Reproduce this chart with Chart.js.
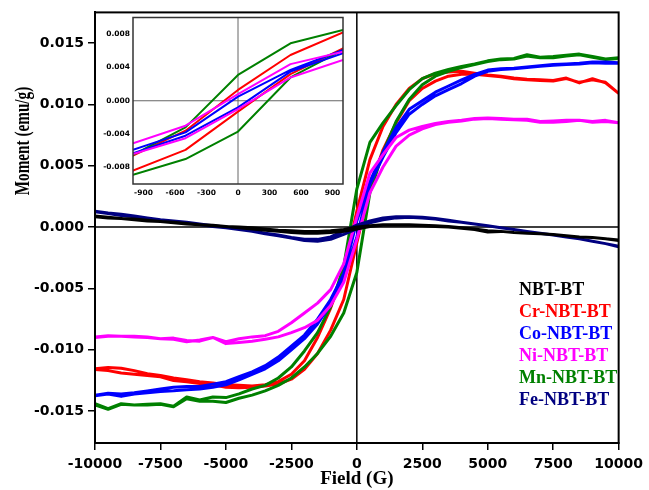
<!DOCTYPE html>
<html>
<head>
<meta charset="utf-8">
<script src="https://cdn.jsdelivr.net/npm/chart.js@4.4.1/dist/chart.umd.min.js"></script>
<style>
    html, body { margin: 0; padding: 0; background: #fff; }
    #wrap { position: relative; width: 649px; height: 490px; overflow: hidden; }
    #main { position: absolute; left: 0; top: 0; }
    #inset { position: absolute; left: 98px; top: 10px; }
    #ytitle {
        position: absolute; left: 22px; top: 141px; width: 200px; height: 22px; margin-left: -100px; margin-top: -11px;
        transform: rotate(-90deg) scaleX(0.76); text-align: center; line-height: 22px;
        font: bold 20px "Liberation Serif", "Times New Roman", serif; color: #000; white-space: nowrap;
    }
    #legend {
        position: absolute; left: 519px; top: 278px;
        font: bold 18px "Liberation Serif", "Times New Roman", serif; line-height: 22px;
    }
</style>
</head>
<body>
<div id="wrap">
    <canvas id="main" width="649" height="490"></canvas>
    <canvas id="inset" width="250" height="192"></canvas>
    <div id="ytitle">Moment (emu/g)</div>
    <div id="legend"></div>
</div>
<script>
// ========== Datos (emu/g) ==========

// rama descendente: de +10000 G a -10000 G (paso 500 G)
const fieldDesc = [10000, 9500, 9000, 8500, 8000, 7500, 7000, 6500, 6000, 5500, 5000, 4500, 4000, 3500, 3000, 2500, 2000, 1500, 1000, 500,
    0, -500, -1000, -1500, -2000, -2500, -3000, -3500, -4000, -4500, -5000, -5500, -6000, -6500, -7000, -7500, -8000, -8500, -9000, -9500, -10000];
// rama ascendente: mismo campo recorrido al reves
const fieldAsc = fieldDesc.slice().reverse();

const fieldTicks  = [-10000, -7500, -5000, -2500, 0, 2500, 5000, 7500, 10000];
const momentTicks = [-0.015, -0.010, -0.005, 0, 0.005, 0.010, 0.015];
const insetFieldTicks  = [-900, -600, -300, 0, 300, 600, 900];
const insetMomentTicks = [-0.008, -0.004, 0, 0.004, 0.008];

const sampleNames = ['NBT-BT', 'Cr-NBT-BT', 'Co-NBT-BT', 'Ni-NBT-BT', 'Mn-NBT-BT', 'Fe-NBT-BT'];

const nbtDesc = [-0.00105, -0.00095, -0.00085, -0.00080, -0.00070, -0.00060, -0.00055, -0.00050, -0.00045, -0.00035, -0.00030, -0.00015, -0.00005, 0.00005, 0.00010, 0.00015, 0.00020, 0.00020, 0.00020, 0.00010,
    0.00000, -0.00020, -0.00030, -0.00035, -0.00035, -0.00030, -0.00025, -0.00015, -0.00005, 0.00000, 0.00005, 0.00015, 0.00020, 0.00030, 0.00040, 0.00045, 0.00055, 0.00065, 0.00070, 0.00080, 0.00090];
const nbtAsc  = [0.00085, 0.00075, 0.00070, 0.00060, 0.00050, 0.00045, 0.00035, 0.00025, 0.00020, 0.00010, 0.00005, -0.00005, -0.00015, -0.00025, -0.00035, -0.00045, -0.00050, -0.00050, -0.00045, -0.00035,
    -0.00015, 0.00005, 0.00015, 0.00015, 0.00015, 0.00010, 0.00005, 0.00000, -0.00010, -0.00020, -0.00040, -0.00035, -0.00045, -0.00050, -0.00055, -0.00060, -0.00070, -0.00080, -0.00085, -0.00095, -0.00110];

const crDesc = [0.01090, 0.01175, 0.01210, 0.01175, 0.01215, 0.01195, 0.01200, 0.01205, 0.01215, 0.01230, 0.01240, 0.01255, 0.01270, 0.01265, 0.01250, 0.01210, 0.01130, 0.01000, 0.00820, 0.00550,
    0.00130, -0.00360, -0.00660, -0.00900, -0.01090, -0.01200, -0.01260, -0.01285, -0.01295, -0.01290, -0.01285, -0.01270, -0.01260, -0.01245, -0.01230, -0.01210, -0.01195, -0.01170, -0.01150, -0.01145, -0.01155];
const crAsc  = [-0.01160, -0.01170, -0.01190, -0.01200, -0.01210, -0.01220, -0.01250, -0.01260, -0.01275, -0.01285, -0.01305, -0.01310, -0.01305, -0.01295, -0.01280, -0.01240, -0.01160, -0.01030, -0.00840, -0.00590,
    -0.00130, 0.00320, 0.00630, 0.00850, 0.01030, 0.01130, 0.01190, 0.01230, 0.01245, 0.01245, 0.01235, 0.01225, 0.01210, 0.01200, 0.01195, 0.01190, 0.01210, 0.01180, 0.01200, 0.01180, 0.01090];

const coDesc = [0.01340, 0.01345, 0.01345, 0.01335, 0.01330, 0.01325, 0.01315, 0.01305, 0.01295, 0.01290, 0.01280, 0.01245, 0.01200, 0.01150, 0.01100, 0.01030, 0.00960, 0.00810, 0.00610, 0.00370,
    0.00050, -0.00380, -0.00590, -0.00750, -0.00880, -0.00970, -0.01060, -0.01130, -0.01180, -0.01220, -0.01260, -0.01280, -0.01300, -0.01300, -0.01305, -0.01320, -0.01335, -0.01350, -0.01360, -0.01355, -0.01370];
const coAsc  = [-0.01375, -0.01360, -0.01380, -0.01360, -0.01350, -0.01340, -0.01335, -0.01325, -0.01320, -0.01305, -0.01285, -0.01245, -0.01200, -0.01155, -0.01090, -0.01000, -0.00910, -0.00790, -0.00630, -0.00420,
    -0.00080, 0.00350, 0.00570, 0.00770, 0.00920, 0.01000, 0.01070, 0.01120, 0.01170, 0.01230, 0.01270, 0.01285, 0.01290, 0.01300, 0.01310, 0.01320, 0.01325, 0.01330, 0.01340, 0.01335, 0.01335];

const niDesc = [0.00850, 0.00870, 0.00860, 0.00870, 0.00870, 0.00865, 0.00860, 0.00880, 0.00880, 0.00885, 0.00890, 0.00885, 0.00870, 0.00860, 0.00845, 0.00820, 0.00790, 0.00730, 0.00590, 0.00440,
    0.00080, -0.00300, -0.00510, -0.00620, -0.00700, -0.00780, -0.00850, -0.00885, -0.00895, -0.00910, -0.00935, -0.00900, -0.00920, -0.00935, -0.00915, -0.00910, -0.00895, -0.00890, -0.00890, -0.00885, -0.00895];
const niAsc  = [-0.00900, -0.00890, -0.00890, -0.00895, -0.00900, -0.00910, -0.00905, -0.00925, -0.00930, -0.00900, -0.00950, -0.00940, -0.00930, -0.00915, -0.00895, -0.00860, -0.00820, -0.00760, -0.00640, -0.00450,
    -0.00100, 0.00280, 0.00490, 0.00660, 0.00750, 0.00800, 0.00835, 0.00855, 0.00865, 0.00880, 0.00885, 0.00880, 0.00875, 0.00870, 0.00855, 0.00855, 0.00860, 0.00870, 0.00855, 0.00860, 0.00850];

const mnDesc = [0.01380, 0.01370, 0.01390, 0.01410, 0.01400, 0.01390, 0.01385, 0.01405, 0.01375, 0.01370, 0.01355, 0.01330, 0.01310, 0.01285, 0.01255, 0.01210, 0.01120, 0.00990, 0.00850, 0.00690,
    0.00310, -0.00320, -0.00650, -0.00860, -0.01010, -0.01140, -0.01230, -0.01290, -0.01320, -0.01360, -0.01390, -0.01385, -0.01410, -0.01385, -0.01460, -0.01440, -0.01445, -0.01450, -0.01440, -0.01480, -0.01440];
const mnAsc  = [-0.01450, -0.01485, -0.01445, -0.01450, -0.01450, -0.01445, -0.01465, -0.01400, -0.01420, -0.01420, -0.01430, -0.01395, -0.01370, -0.01335, -0.01290, -0.01230, -0.01140, -0.01030, -0.00890, -0.00700,
    -0.00370, 0.00280, 0.00610, 0.00860, 0.01040, 0.01160, 0.01230, 0.01270, 0.01300, 0.01325, 0.01350, 0.01365, 0.01370, 0.01395, 0.01380, 0.01380, 0.01395, 0.01405, 0.01385, 0.01365, 0.01375];

const feDesc = [-0.00155, -0.00135, -0.00115, -0.00095, -0.00080, -0.00065, -0.00050, -0.00035, -0.00020, -0.00005, 0.00010, 0.00025, 0.00040, 0.00055, 0.00070, 0.00080, 0.00085, 0.00085, 0.00075, 0.00050,
    0.00015, -0.00030, -0.00080, -0.00100, -0.00100, -0.00085, -0.00065, -0.00050, -0.00030, -0.00015, 0.00000, 0.00010, 0.00025, 0.00040, 0.00050, 0.00060, 0.00075, 0.00090, 0.00105, 0.00115, 0.00130];
const feAsc  = [0.00125, 0.00110, 0.00095, 0.00085, 0.00070, 0.00055, 0.00045, 0.00035, 0.00020, 0.00005, -0.00005, -0.00020, -0.00035, -0.00055, -0.00070, -0.00090, -0.00110, -0.00115, -0.00100, -0.00060,
    -0.00015, 0.00035, 0.00060, 0.00075, 0.00080, 0.00075, 0.00065, 0.00050, 0.00040, 0.00025, 0.00010, -0.00005, -0.00020, -0.00035, -0.00050, -0.00065, -0.00080, -0.00095, -0.00115, -0.00135, -0.00160];

// ========== Estilos ==========

const colores = {
    'NBT-BT': '#000000', 'Cr-NBT-BT': '#ff0000', 'Co-NBT-BT': '#0000ff',
    'Ni-NBT-BT': '#ff00ff', 'Mn-NBT-BT': '#008000', 'Fe-NBT-BT': '#000080'
};
const fuenteTicks = { family: 'DejaVu Sans', weight: 'bold', size: 14 };

// lazo completo: rama descendente + ascendente
function lazo(desc, asc) {
    return fieldDesc.map((h, i) => ({ x: h, y: desc[i] }))
        .concat(fieldAsc.map((h, i) => ({ x: h, y: asc[i] })));
}

const lazos = {
    'NBT-BT': lazo(nbtDesc, nbtAsc),
    'Cr-NBT-BT': lazo(crDesc, crAsc),
    'Co-NBT-BT': lazo(coDesc, coAsc),
    'Ni-NBT-BT': lazo(niDesc, niAsc),
    'Mn-NBT-BT': lazo(mnDesc, mnAsc),
    'Fe-NBT-BT': lazo(feDesc, feAsc)
};

function dataset(nombre, ancho) {
    return {
        label: nombre, data: lazos[nombre],
        borderColor: colores[nombre], backgroundColor: colores[nombre],
        borderWidth: ancho, pointRadius: 0, showLine: true, tension: 0, clip: 0,
        borderJoinStyle: 'round'
    };
}

// lineas en cero y marco
const ejesCero = {
    id: 'ejesCero',
    beforeDatasetsDraw(chart, args, opts) {
        const { ctx, chartArea: a, scales: { x, y } } = chart;
        const x0 = x.getPixelForValue(0);
        const y0 = y.getPixelForValue(0);
        ctx.save();
        ctx.strokeStyle = opts.color;
        ctx.lineWidth = opts.width;
        ctx.beginPath();
        ctx.moveTo(a.left, y0); ctx.lineTo(a.right, y0);
        ctx.moveTo(x0, a.top); ctx.lineTo(x0, a.bottom);
        ctx.stroke();
        ctx.restore();
    },
    afterDatasetsDraw(chart, args, opts) {
        const { ctx, chartArea: a } = chart;
        ctx.save();
        ctx.strokeStyle = opts.frameColor;
        ctx.lineWidth = opts.frameWidth;
        ctx.strokeRect(a.left, a.top, a.right - a.left, a.bottom - a.top);
        ctx.restore();
    }
};

// ========== Grafica principal ==========

const orden = ['NBT-BT', 'Fe-NBT-BT', 'Ni-NBT-BT', 'Co-NBT-BT', 'Mn-NBT-BT', 'Cr-NBT-BT'];

new Chart(document.getElementById('main'), {
    type: 'scatter',
    data: { datasets: orden.map(n => dataset(n, 3)) },
    plugins: [ejesCero],
    options: {
        responsive: false, animation: false, devicePixelRatio: 1,
        layout: { padding: { top: 12, right: 24, left: 0, bottom: 0 } },
        plugins: {
            legend: { display: false }, tooltip: { enabled: false },
            ejesCero: { color: '#000', width: 1.5, frameColor: '#000', frameWidth: 2 }
        },
        scales: {
            x: {
                type: 'linear', min: -10000, max: 10000,
                afterFit: s => { s.height = 47; },
                afterBuildTicks: s => { s.ticks = fieldTicks.map(v => ({ value: v })); },
                ticks: { font: fuenteTicks, color: '#000', padding: 6, maxRotation: 0, callback: v => String(v) },
                grid: { drawOnChartArea: false, drawTicks: true, tickLength: 7, color: '#000', lineWidth: 1.5 },
                border: { display: true, color: '#000', width: 2 },
                title: {
                    display: true, text: 'Field (G)', color: '#000', padding: { top: 0, bottom: 0 },
                    font: { family: 'Liberation Serif', weight: 'bold', size: 19 }
                }
            },
            y: {
                type: 'linear', min: -0.0176, max: 0.0175,
                afterFit: s => { s.width = 95; },
                afterBuildTicks: s => { s.ticks = momentTicks.map(v => ({ value: v })); },
                ticks: { font: fuenteTicks, color: '#000', padding: 4, callback: v => v.toFixed(3) },
                grid: { drawOnChartArea: false, drawTicks: true, tickLength: 7, color: '#000', lineWidth: 1.5 },
                border: { display: true, color: '#000', width: 2 }
            }
        }
    }
});

// ========== Recuadro (zoom cerca de cero) ==========

const ordenInset = ['Ni-NBT-BT', 'Co-NBT-BT', 'Mn-NBT-BT', 'Cr-NBT-BT'];
const fuenteInset = { family: 'DejaVu Sans', weight: 'bold', size: 7.5 };

new Chart(document.getElementById('inset'), {
    type: 'scatter',
    data: { datasets: ordenInset.map(n => dataset(n, 2)) },
    plugins: [ejesCero],
    options: {
        responsive: false, animation: false, devicePixelRatio: 1,
        layout: { padding: { top: 6, right: 5, left: 0, bottom: 0 } },
        plugins: {
            legend: { display: false }, tooltip: { enabled: false },
            ejesCero: { color: '#666', width: 1, frameColor: '#333', frameWidth: 1.5 }
        },
        scales: {
            x: {
                type: 'linear', min: -1000, max: 1000,
                afterFit: s => { s.height = 18; },
                afterBuildTicks: s => { s.ticks = insetFieldTicks.map(v => ({ value: v })); },
                ticks: { font: fuenteInset, color: '#000', padding: 5, maxRotation: 0, callback: v => String(v) },
                grid: { display: false, drawTicks: false },
                border: { display: false }
            },
            y: {
                type: 'linear', min: -0.010, max: 0.010,
                afterFit: s => { s.width = 35; },
                afterBuildTicks: s => { s.ticks = insetMomentTicks.map(v => ({ value: v })); },
                ticks: { font: fuenteInset, color: '#000', padding: 3, callback: v => v.toFixed(3) },
                grid: { display: false, drawTicks: false },
                border: { display: false }
            }
        }
    }
});

// ========== Leyenda ==========

document.getElementById('legend').innerHTML = sampleNames
    .map(n => `<div style="color:${colores[n]}">${n}</div>`).join('');
</script>
</body>
</html>
